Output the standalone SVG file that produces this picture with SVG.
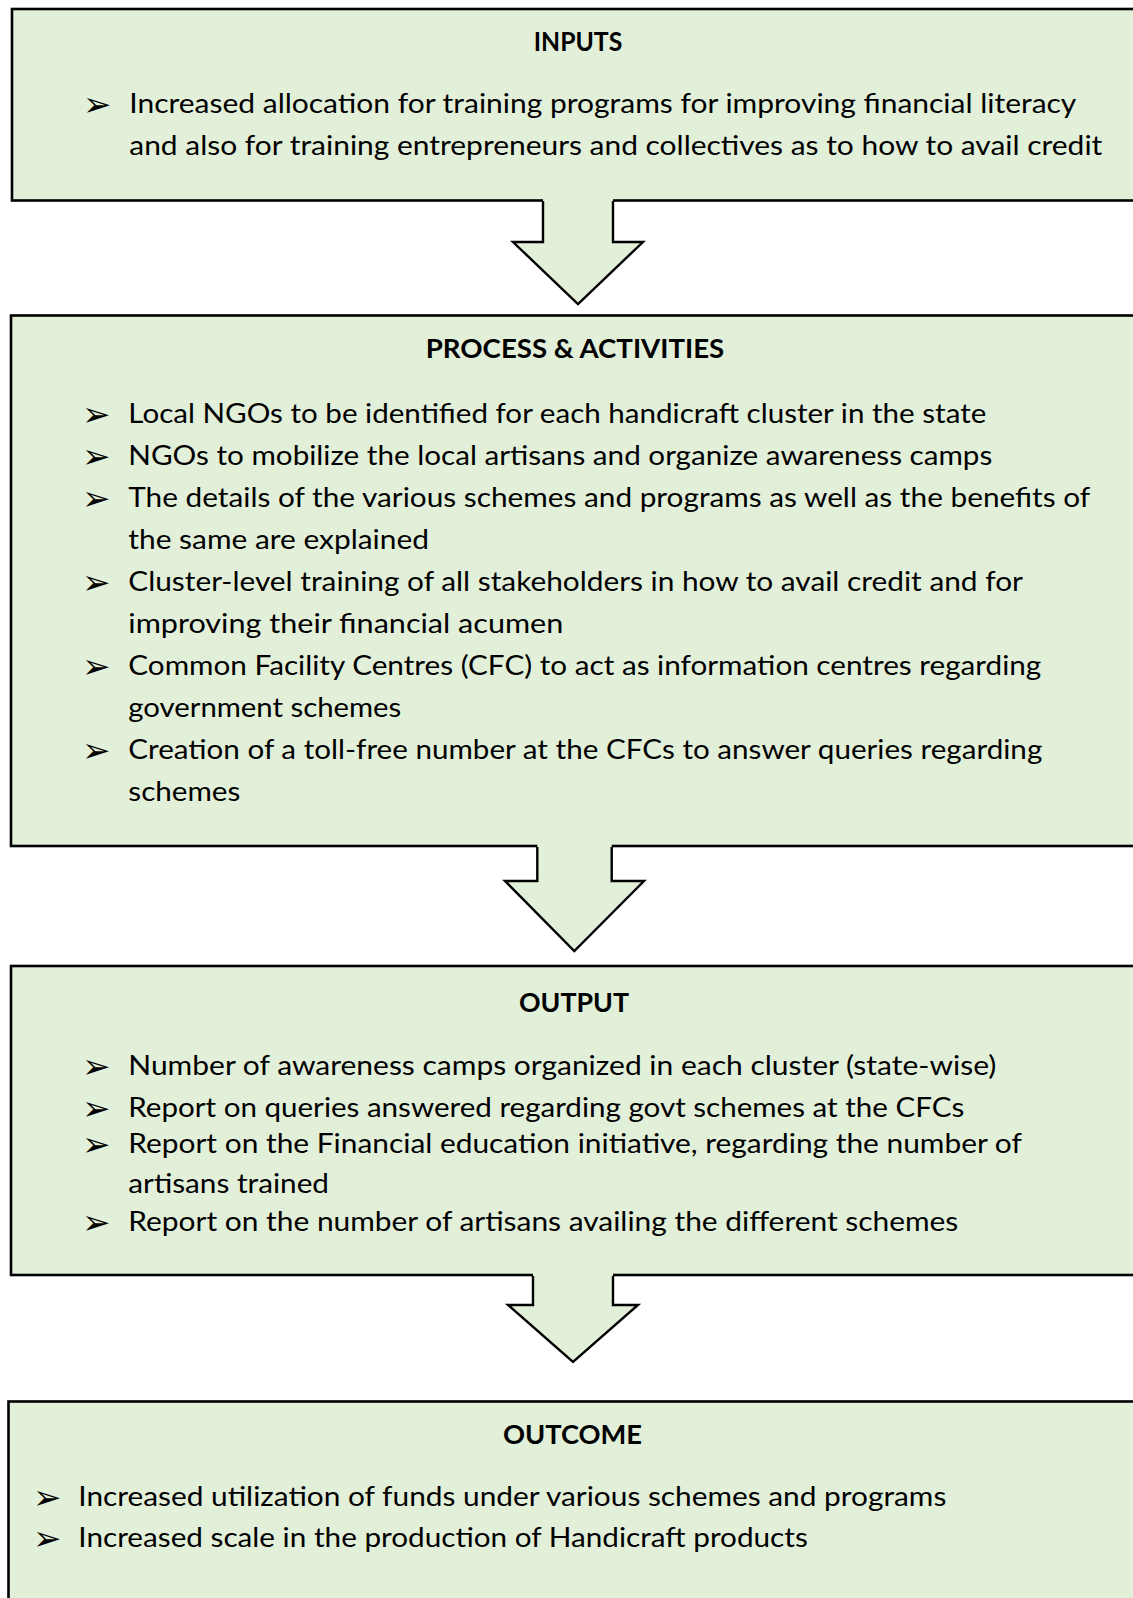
<svg xmlns="http://www.w3.org/2000/svg" width="1133" height="1598" viewBox="0 0 1133 1598">
<style>
.box{fill:#e2efd9;stroke:#000;stroke-width:2.6}
.af{fill:#e2efd9;stroke:none}
.as{fill:none;stroke:#000;stroke-width:2.4;stroke-linejoin:miter}
.h{font-family:Lato,"Liberation Sans",sans-serif;font-weight:bold;font-size:27px;fill:#000;text-anchor:middle}
.t{font-family:Lato,"Liberation Sans",sans-serif;font-size:27px;fill:#000}
.b{font-family:"DejaVu Sans",sans-serif;font-size:34px;fill:#000}
</style>
<rect width="1133" height="1598" fill="#fff"/>
<g id="inputs">
<rect class="box" x="12" y="9" width="1140" height="191.5"/>
<text class="h" x="578" y="51" textLength="88.5" lengthAdjust="spacingAndGlyphs">INPUTS</text>
<text class="b" x="83" y="116">➢</text>
<text class="t" x="129.3" y="113" textLength="947" lengthAdjust="spacingAndGlyphs">Increased allocation for training programs for improving financial literacy</text>
<text class="t" x="129.3" y="155" textLength="973" lengthAdjust="spacingAndGlyphs">and also for training entrepreneurs and collectives as to how to avail credit</text>
</g>
<g id="process">
<rect class="box" x="11" y="315.5" width="1140" height="530.5"/>
<text class="h" x="575" y="358" textLength="298.5" lengthAdjust="spacingAndGlyphs">PROCESS &amp; ACTIVITIES</text>
<text class="b" x="82" y="425.5">➢</text>
<text class="t" x="128.3" y="422.5" textLength="858" lengthAdjust="spacingAndGlyphs">Local NGOs to be identified for each handicraft cluster in the state</text>
<text class="b" x="82" y="467.5">➢</text>
<text class="t" x="128.3" y="464.5" textLength="864" lengthAdjust="spacingAndGlyphs">NGOs to mobilize the local artisans and organize awareness camps</text>
<text class="b" x="82" y="509.5">➢</text>
<text class="t" x="128.3" y="506.5" textLength="962" lengthAdjust="spacingAndGlyphs">The details of the various schemes and programs as well as the benefits of</text>
<text class="t" x="128.3" y="548.5" textLength="300.6" lengthAdjust="spacingAndGlyphs">the same are explained</text>
<text class="b" x="82" y="593.5">➢</text>
<text class="t" x="128.3" y="590.5" textLength="894.6" lengthAdjust="spacingAndGlyphs">Cluster-level training of all stakeholders in how to avail credit and for</text>
<text class="t" x="128.3" y="632.5" textLength="435" lengthAdjust="spacingAndGlyphs">improving their financial acumen</text>
<text class="b" x="82" y="677.5">➢</text>
<text class="t" x="128.3" y="674.5" textLength="913" lengthAdjust="spacingAndGlyphs">Common Facility Centres (CFC) to act as information centres regarding</text>
<text class="t" x="128.3" y="716.5" textLength="273" lengthAdjust="spacingAndGlyphs">government schemes</text>
<text class="b" x="82" y="761.5">➢</text>
<text class="t" x="128.3" y="758.5" textLength="914" lengthAdjust="spacingAndGlyphs">Creation of a toll-free number at the CFCs to answer queries regarding</text>
<text class="t" x="128.3" y="800.5" textLength="112" lengthAdjust="spacingAndGlyphs">schemes</text>
</g>
<g id="output">
<rect class="box" x="11" y="966" width="1140" height="309"/>
<text class="h" x="574" y="1012" textLength="110" lengthAdjust="spacingAndGlyphs">OUTPUT</text>
<text class="b" x="82" y="1078">➢</text>
<text class="t" x="128.3" y="1075" textLength="868" lengthAdjust="spacingAndGlyphs">Number of awareness camps organized in each cluster (state-wise)</text>
<text class="b" x="82" y="1119.5">➢</text>
<text class="t" x="128.3" y="1116.5" textLength="836" lengthAdjust="spacingAndGlyphs">Report on queries answered regarding govt schemes at the CFCs</text>
<text class="b" x="82" y="1156">➢</text>
<text class="t" x="128.3" y="1153" textLength="893.6" lengthAdjust="spacingAndGlyphs">Report on the Financial education initiative, regarding the number of</text>
<text class="t" x="128.3" y="1193" textLength="200.7" lengthAdjust="spacingAndGlyphs">artisans trained</text>
<text class="b" x="82" y="1234">➢</text>
<text class="t" x="128.3" y="1231" textLength="830" lengthAdjust="spacingAndGlyphs">Report on the number of artisans availing the different schemes</text>
</g>
<g id="outcome">
<rect class="box" x="8.5" y="1401.5" width="1140" height="220"/>
<text class="h" x="572.5" y="1444" textLength="139" lengthAdjust="spacingAndGlyphs">OUTCOME</text>
<text class="b" x="33" y="1509">➢</text>
<text class="t" x="78.3" y="1506" textLength="868" lengthAdjust="spacingAndGlyphs">Increased utilization of funds under various schemes and programs</text>
<text class="b" x="33" y="1550">➢</text>
<text class="t" x="78.3" y="1547" textLength="729.5" lengthAdjust="spacingAndGlyphs">Increased scale in the production of Handicraft products</text>
</g>
<g id="connectors">
<polygon class="af" points="543,198 613,198 613,242 643,242 578,304 513,242 543,242"/>
<polyline class="as" points="543,201 543,242 513,242 578,304 643,242 613,242 613,201"/>
<polygon class="af" points="537.3,844 611.7,844 611.7,881 644,881 574.3,951 505,881 537.3,881"/>
<polyline class="as" points="537.3,847 537.3,881 505,881 574.3,951 644,881 611.7,881 611.7,847"/>
<polygon class="af" points="533,1273 613,1273 613,1305 638,1305 573,1362 508,1305 533,1305"/>
<polyline class="as" points="533,1276 533,1305 508,1305 573,1362 638,1305 613,1305 613,1276"/>
</g>
</svg>
